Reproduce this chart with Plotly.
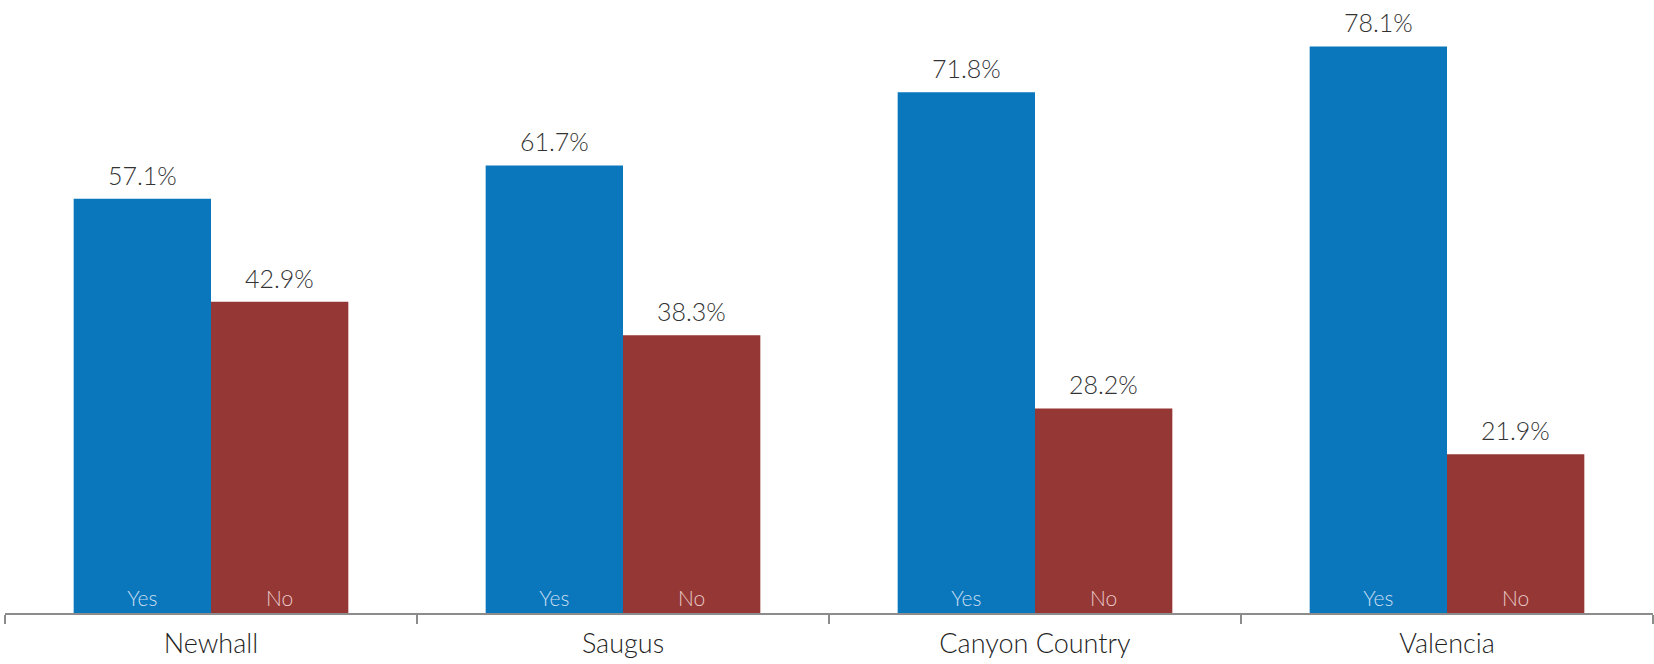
import plotly.graph_objects as go

categories = ["Newhall", "Saugus", "Canyon Country", "Valencia"]
yes_values = [57.1, 61.7, 71.8, 78.1]
no_values = [42.9, 38.3, 28.2, 21.9]
series_names = ["Yes", "No"]

BLUE = "#0a77bd"
RED = "#953735"
FONT = "Lato Light, Lato, sans-serif"

fig = go.Figure()
fig.add_trace(go.Bar(
    x=categories, y=yes_values, name=series_names[0],
    marker=dict(color=BLUE, line=dict(width=0)),
    text=[series_names[0]] * len(categories), textposition="inside",
    insidetextanchor="start", textangle=0,
    insidetextfont=dict(family=FONT, size=21, color="#c9def0"),
))
fig.add_trace(go.Bar(
    x=categories, y=no_values, name=series_names[1],
    marker=dict(color=RED, line=dict(width=0)),
    text=[series_names[1]] * len(categories), textposition="inside",
    insidetextanchor="start", textangle=0,
    insidetextfont=dict(family=FONT, size=21, color="#e8c8c8"),
))

annotations = []
for i, c in enumerate(categories):
    for v, shift in ((yes_values[i], -68.75), (no_values[i], 68.75)):
        annotations.append(dict(
            x=c, y=v, xref="x", yref="y", xshift=shift, yshift=7,
            text=f"{v:.1f}%", showarrow=False, yanchor="bottom",
            font=dict(family=FONT, size=25, color="#333333"),
        ))

fig.update_layout(
    width=1654, height=664,
    margin=dict(l=5, r=1, t=0, b=51),
    paper_bgcolor="white", plot_bgcolor="white",
    barmode="group", bargap=1/3, bargroupgap=0,
    showlegend=False,
    annotations=annotations,
    uniformtext=dict(mode=False),
)
fig.update_xaxes(
    showline=True, linecolor="#8c8c8c", linewidth=1.5,
    ticks="outside", tickson="boundaries", ticklen=9, tickcolor="#8c8c8c", tickwidth=1.5,
    tickfont=dict(family=FONT, size=27, color="#1f1f1f"),
    ticklabelstandoff=6,
    showgrid=False, automargin=False,
)
fig.update_yaxes(range=[0, 84.5], visible=False, showgrid=False)

fig.write_html(
    "out.html",
    config={"displayModeBar": False},
    post_script="document.body.style.margin='0';document.body.style.overflow='hidden';",
)
